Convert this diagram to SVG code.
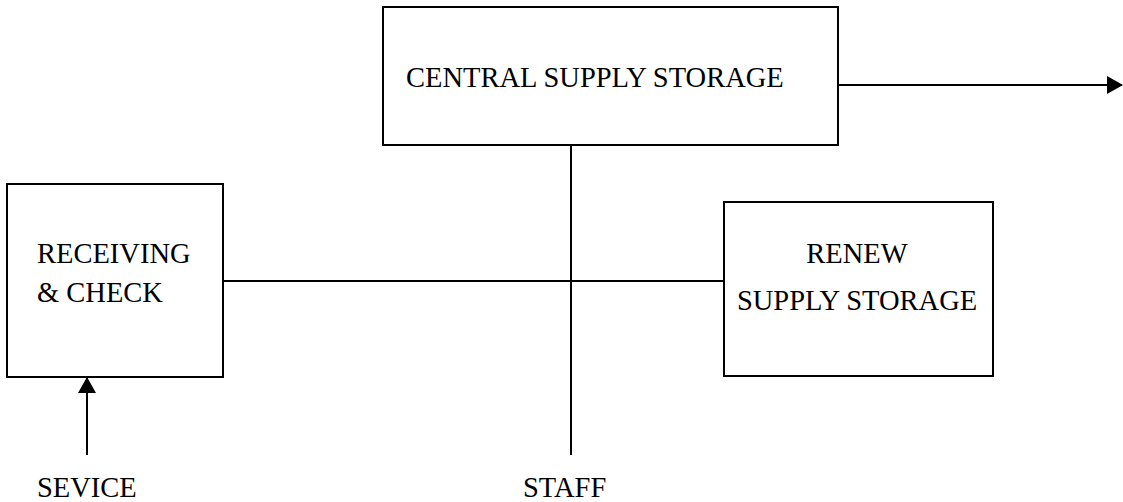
<svg xmlns="http://www.w3.org/2000/svg" width="1123" height="502" viewBox="0 0 1123 502">
<style>
.box{fill:none;stroke:#000;stroke-width:2}
.ln{stroke:#000;stroke-width:2;fill:none}
text{font-family:"Liberation Serif","Times New Roman",serif;font-size:28.5px;fill:#000}
</style>
<defs>
<marker id="ah" markerWidth="16" markerHeight="20" refX="15" refY="10" orient="auto" markerUnits="userSpaceOnUse">
<path d="M0,1 L16,10 L0,19 Z" fill="#000"/>
</marker>
</defs>
<g id="connectors">
<line class="ln" x1="838" y1="85" x2="1122" y2="85" marker-end="url(#ah)"/>
<line class="ln" x1="571" y1="145" x2="571" y2="455"/>
<line class="ln" x1="223" y1="281" x2="724" y2="281"/>
<line class="ln" x1="87" y1="455" x2="87" y2="378" marker-end="url(#ah)"/>
</g>
<g id="central">
<rect class="box" x="383" y="7" width="455" height="138"/>
<text x="406" y="87">CENTRAL SUPPLY STORAGE</text>
</g>
<g id="receiving">
<rect class="box" x="7" y="184" width="216" height="193"/>
<text x="37" y="263">RECEIVING</text>
<text x="37" y="302">&amp; CHECK</text>
</g>
<g id="renew">
<rect class="box" x="724" y="202" width="269" height="174"/>
<text x="857" y="263" text-anchor="middle">RENEW</text>
<text x="857" y="310" text-anchor="middle">SUPPLY STORAGE</text>
</g>
<g id="labels">
<text x="37" y="497">SEVICE</text>
<text x="523" y="497">STAFF</text>
</g>
</svg>
